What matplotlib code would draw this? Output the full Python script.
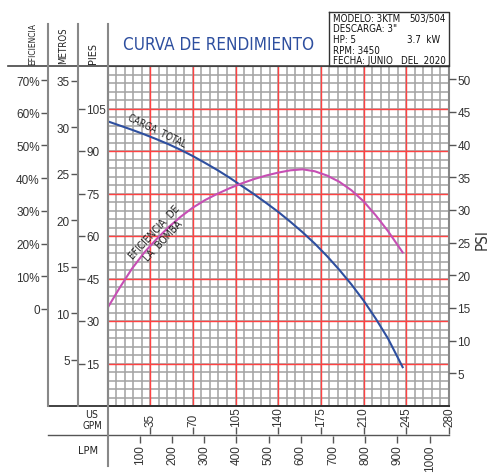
import matplotlib
matplotlib.use('Agg')
import matplotlib.pyplot as plt
import numpy as np

# Datos (GPM)
gpm = [0, 10, 20, 30, 40, 50, 60, 70, 80, 90, 100, 110, 120, 130, 140, 150,
       160, 170, 180, 190, 200, 210, 220, 230, 240, 242]
carga_pies = [100.5, 99.0, 97.5, 95.9, 94.2, 92.4, 90.4, 88.2, 85.8, 83.3, 80.6, 77.7,
              74.8, 71.7, 68.5, 65.0, 61.3, 57.3, 52.9, 48.1, 42.9, 37.2, 30.8, 23.8,
              15.4, 13.7]
eficiencia = [0.3, 6.5, 12.3, 17.2, 21.3, 25.0, 28.2, 31.0, 33.3, 35.2, 36.9, 38.4,
              39.7, 40.8, 41.7, 42.4, 42.7, 42.1, 40.8, 38.9, 36.3, 32.9, 28.6, 23.8,
              18.4, 17.3]

ticks_gpm = [35, 70, 105, 140, 175, 210, 245, 280]
ticks_lpm = [100, 200, 300, 400, 500, 600, 700, 800, 900, 1000]
ticks_pies = [15, 30, 45, 60, 75, 90, 105]
ticks_metros = [5, 10, 15, 20, 25, 30, 35]
ticks_psi = [5, 10, 15, 20, 25, 30, 35, 40, 45, 50]
ticks_efic = [0, 10, 20, 30, 40, 50, 60, 70]

info = ["MODELO: 3KTM", "DESCARGA: 3\"", "HP: 5", "RPM: 3450", "FECHA: JUNIO"]
info_der = ["503/504", "", "3.7  kW", "", "DEL  2020"]

W, H = 495, 477
narrow = ['Liberation Sans Narrow', 'DejaVu Sans']
plt.rcParams['font.family'] = ['Liberation Sans', 'DejaVu Sans']


def rect(l, t, r, b):
    return [l / W, 1 - b / H, (r - l) / W, (b - t) / H]


fig = plt.figure(figsize=(W / 100, H / 100), dpi=100)

# Gráfica principal (pies vs GPM)
ax = fig.add_axes(rect(107.5, 67, 449, 407))
ax.set_xlim(0, 280)
ax.set_ylim(0, 120)
for x in np.arange(7, 280, 7):
    ax.axvline(x, color='#a4a4a4', lw=1.15, zorder=1)
for y in np.arange(3, 120, 3):
    ax.axhline(y, color='#a4a4a4', lw=1.15, zorder=1)
for x in np.arange(35, 280, 35):
    ax.axvline(x, color='#ff4242', lw=1.0, zorder=2)
for y in np.arange(15, 120, 15):
    ax.axhline(y, color='#ff4242', lw=1.0, zorder=2)
ax.set_xticks([])
ax.set_yticks([])
for s in ['left', 'right']:
    ax.spines[s].set_color('#888888')
    ax.spines[s].set_linewidth(1.5)
ax.spines['top'].set_color('#444444')
ax.spines['bottom'].set_color('#333333')
ax.spines['bottom'].set_linewidth(1.3)

ax.plot(gpm, carga_pies, color='#2e4f9f', lw=1.5, zorder=5)

# Eficiencia sobre la misma área
eff_lo = -(407 - 310) / 3.271
eff_hi = (310 - 67) / 3.271
axEff = ax.twinx()
axEff.set_ylim(eff_lo, eff_hi)
axEff.axis('off')
axEff.plot(gpm, eficiencia, color='#c64fb4', lw=1.5, zorder=5)

# PSI a la derecha
axPsi = ax.twinx()
axPsi.set_ylim(0, 120 / 2.3067)
axPsi.set_yticks(ticks_psi)
axPsi.tick_params(axis='y', direction='out', length=5, width=1, color='#555555',
                  labelsize=8.5, labelcolor='#333333', pad=1)
for s in axPsi.spines.values():
    s.set_visible(False)


# Ejes auxiliares de la izquierda
def eje_vertical(l, r, lim, ticks, labels, lado):
    a = fig.add_axes(rect(l, 67, r, 407))
    a.set_ylim(*lim)
    a.set_xticks([])
    a.set_yticks(ticks)
    a.set_yticklabels(labels)
    if lado == 'right':
        a.yaxis.tick_right()
    a.tick_params(axis='y', direction='out', length=5, width=1, color='#555555',
                  labelsize=8.5, labelcolor='#333333', pad=1)
    a.patch.set_visible(False)
    for s in a.spines.values():
        s.set_visible(False)
    return a


eje_vertical(48, 49, (eff_lo, eff_hi), ticks_efic,
             ['0' if v == 0 else f'{v}%' for v in ticks_efic], 'left')
eje_vertical(78, 79, (0, 120 * 0.3048), ticks_metros, [str(v) for v in ticks_metros], 'left')
eje_vertical(77, 78, (0, 120), ticks_pies, [str(v) for v in ticks_pies], 'right')

# Ejes de caudal abajo
axG = fig.add_axes(rect(107.5, 435, 449, 436))
axG.set_xlim(0, 280)
axG.set_yticks([])
axG.xaxis.tick_top()
axG.set_xticks(ticks_gpm)
axG.set_xticklabels([str(v) for v in ticks_gpm], rotation=90)
axG.tick_params(axis='x', direction='out', length=5, width=1, color='#555555',
                labelsize=8.5, labelcolor='#333333', pad=1)
axG.patch.set_visible(False)
for s in axG.spines.values():
    s.set_visible(False)

axL = fig.add_axes(rect(107.5, 436, 449, 437))
axL.set_xlim(0, 280 * 3.78541)
axL.set_yticks([])
axL.set_xticks(ticks_lpm)
axL.set_xticklabels([str(v) for v in ticks_lpm], rotation=90)
axL.tick_params(axis='x', direction='out', length=5, width=1, color='#555555',
                labelsize=8.5, labelcolor='#333333', pad=1)
axL.patch.set_visible(False)
for s in axL.spines.values():
    s.set_visible(False)

# Marco y textos en coordenadas de píxel
bg = fig.add_axes([0, 0, 1, 1], zorder=10)
bg.set_xlim(0, W)
bg.set_ylim(H, 0)
bg.axis('off')
bg.plot([8, 449], [67, 67], color='#444444', lw=1.2)
bg.plot([48, 449], [407, 407], color='#333333', lw=1.3)
bg.plot([48, 449], [436, 436], color='#555555', lw=1.0)
for x in [48, 78]:
    bg.plot([x, x], [25, 407], color='#888888', lw=1.5)
bg.plot([108, 108], [25, 467], color='#888888', lw=1.5)
bg.plot([329, 449, 449, 329, 329], [13, 13, 67, 67, 13], color='#333333', lw=1.0)

renderer = fig.canvas.get_renderer()


def txt(x, y, s, ancho, rot=0, **kw):
    # ajusta el tamaño para que el texto mida 'ancho' píxeles
    kw.setdefault('family', narrow)
    kw.setdefault('stretch', 'condensed')
    kw.setdefault('color', '#222222')
    t = bg.text(x, y, s, fontsize=10, **kw)
    w = t.get_window_extent(renderer).width
    t.set_fontsize(10 * ancho / w)
    t.set_rotation(rot)
    return t


txt(33, 65, 'EFICIENCIA', 42, rot=90, ha='center', va='bottom')
txt(63, 64, 'METROS', 37, rot=90, ha='center', va='bottom')
txt(93, 64, 'PIES', 21, rot=90, ha='center', va='bottom')
txt(92, 415, 'US', 13, ha='center', va='center')
txt(92, 426, 'GPM', 20, ha='center', va='center')
txt(88, 451, 'LPM', 20, ha='center', va='center')
txt(482, 240, 'PSI', 21, rot=90, ha='center', va='center', color='#333333')

txt(219, 45, 'CURVA DE RENDIMIENTO', 191, ha='center', va='center', color='#2e4f9f')

t0 = txt(333, 19, info[0], 67, ha='left', va='center', color='#111111')
fs = t0.get_fontsize()
for i, (a, b) in enumerate(zip(info, info_der)):
    y = 19 + i * 10.5
    if i > 0:
        bg.text(333, y, a, ha='left', va='center', fontsize=fs, family=narrow,
                stretch='condensed', color='#111111')
    if b:
        xb = 407 if i == 2 else 446
        bg.text(xb, y, b, ha='left' if i == 2 else 'right', va='center', fontsize=fs,
                family=narrow, stretch='condensed', color='#111111')

txt(157, 131, 'CARGA  TOTAL', 64, rot=-26, ha='center', va='center')
txt(158.5, 237, 'EFICIENCIA  DE\nLA  BOMBA', 70, rot=47, ha='center', va='center',
    linespacing=1.3)

plt.savefig('out.png', dpi=100)
